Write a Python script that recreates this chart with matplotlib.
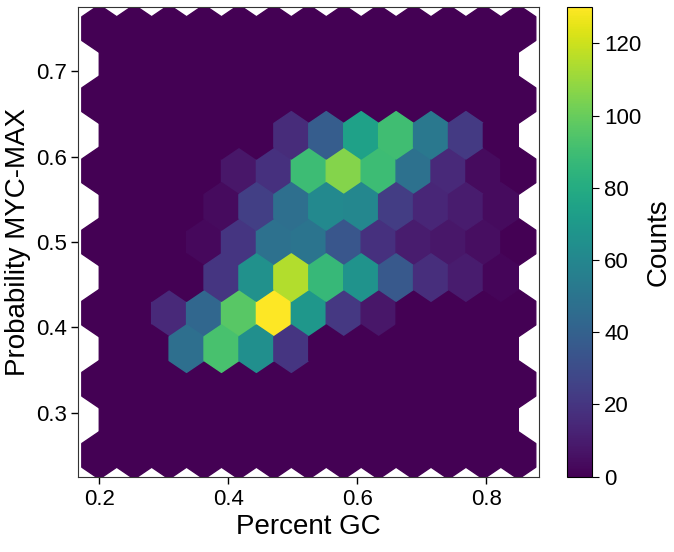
import numpy as np
import matplotlib
matplotlib.use("Agg")
import matplotlib.pyplot as plt

plt.rcParams['font.family'] = ['Liberation Sans', 'DejaVu Sans']

# Hexbin counts, rows from bottom (Probability ~0.25) to top (~0.75).
# Even rows: 13 cells (main lattice); odd rows: 12 cells (offset lattice).
row_00 = [0, 0, 0, 0, 0, 0, 0, 0, 0, 0, 0, 0, 0]
row_01 = [0, 0, 0, 0, 0, 0, 0, 0, 0, 0, 0, 0]
row_02 = [0, 0, 0, 0, 0, 0, 0, 0, 0, 0, 0, 0, 0]
row_03 = [0, 0, 47, 92, 64, 20, 0, 0, 0, 0, 0, 0]
row_04 = [0, 0, 15, 43, 96, 130, 69, 21, 8, 0, 0, 0, 0]
row_05 = [0, 0, 0, 20, 65, 115, 87, 67, 36, 17, 10, 2]
row_06 = [0, 0, 0, 3, 20, 48, 50, 35, 18, 10, 8, 5, 0]
row_07 = [0, 0, 0, 4, 24, 47, 61, 60, 23, 14, 10, 4]
row_08 = [0, 0, 0, 0, 8, 18, 89, 106, 89, 48, 15, 4, 0]
row_09 = [0, 0, 0, 0, 0, 16, 38, 74, 90, 52, 22, 0]
row_10 = [0, 0, 0, 0, 0, 0, 0, 0, 0, 0, 0, 0, 0]
row_11 = [0, 0, 0, 0, 0, 0, 0, 0, 0, 0, 0, 0]
row_12 = [0, 0, 0, 0, 0, 0, 0, 0, 0, 0, 0, 0, 0]
count_rows = [row_00, row_01, row_02, row_03, row_04, row_05, row_06,
              row_07, row_08, row_09, row_10, row_11, row_12]

gc_range = (0.2, 0.85)
prob_range = (0.25, 0.75)
gridsize = 12

x_ticks = [0.2, 0.4, 0.6, 0.8]
y_ticks = [0.3, 0.4, 0.5, 0.6, 0.7]
cbar_ticks = [0, 20, 40, 60, 80, 100, 120]

# Build one sample at each hexagon's centre carrying its count
nx = gridsize
ny = int(nx / np.sqrt(3))
sx = (gc_range[1] - gc_range[0]) / nx
sy = (prob_range[1] - prob_range[0]) / ny
xs, ys, cs = [], [], []
for k, row in enumerate(count_rows):
    off = 0.0 if k % 2 == 0 else 0.5
    for i, c in enumerate(row):
        xs.append(gc_range[0] + (i + off) * sx)
        ys.append(prob_range[0] + (k / 2.0) * sy)
        cs.append(c)
xs = np.array(xs); ys = np.array(ys); cs = np.array(cs, dtype=float)

fig = plt.figure(figsize=(6.74, 5.52), dpi=100)
ax = fig.add_axes([0.1162, 0.1364, 0.6839, 0.8504])
cax = fig.add_axes([0.8417, 0.1364, 0.0371, 0.8504])

hb = ax.hexbin(xs, ys, C=cs, reduce_C_function=np.sum, gridsize=gridsize,
               extent=(gc_range[0], gc_range[1], prob_range[0], prob_range[1]),
               cmap='viridis', vmin=0, vmax=max(max(r) for r in count_rows))

ax.set_xticks(x_ticks)
ax.set_yticks(y_ticks)
ax.tick_params(labelsize=16, length=5, width=1, colors='black')
ax.set_xlabel('Percent GC', fontsize=20, labelpad=3)
ax.set_ylabel('Probability MYC-MAX', fontsize=20, labelpad=3)
for s in ax.spines.values():
    s.set_color('#333333')

cb = fig.colorbar(hb, cax=cax)
cb.set_ticks(cbar_ticks)
cb.ax.tick_params(labelsize=16, length=5)
cb.set_label('Counts', fontsize=20, labelpad=3)

fig.savefig('out.png', dpi=100)
